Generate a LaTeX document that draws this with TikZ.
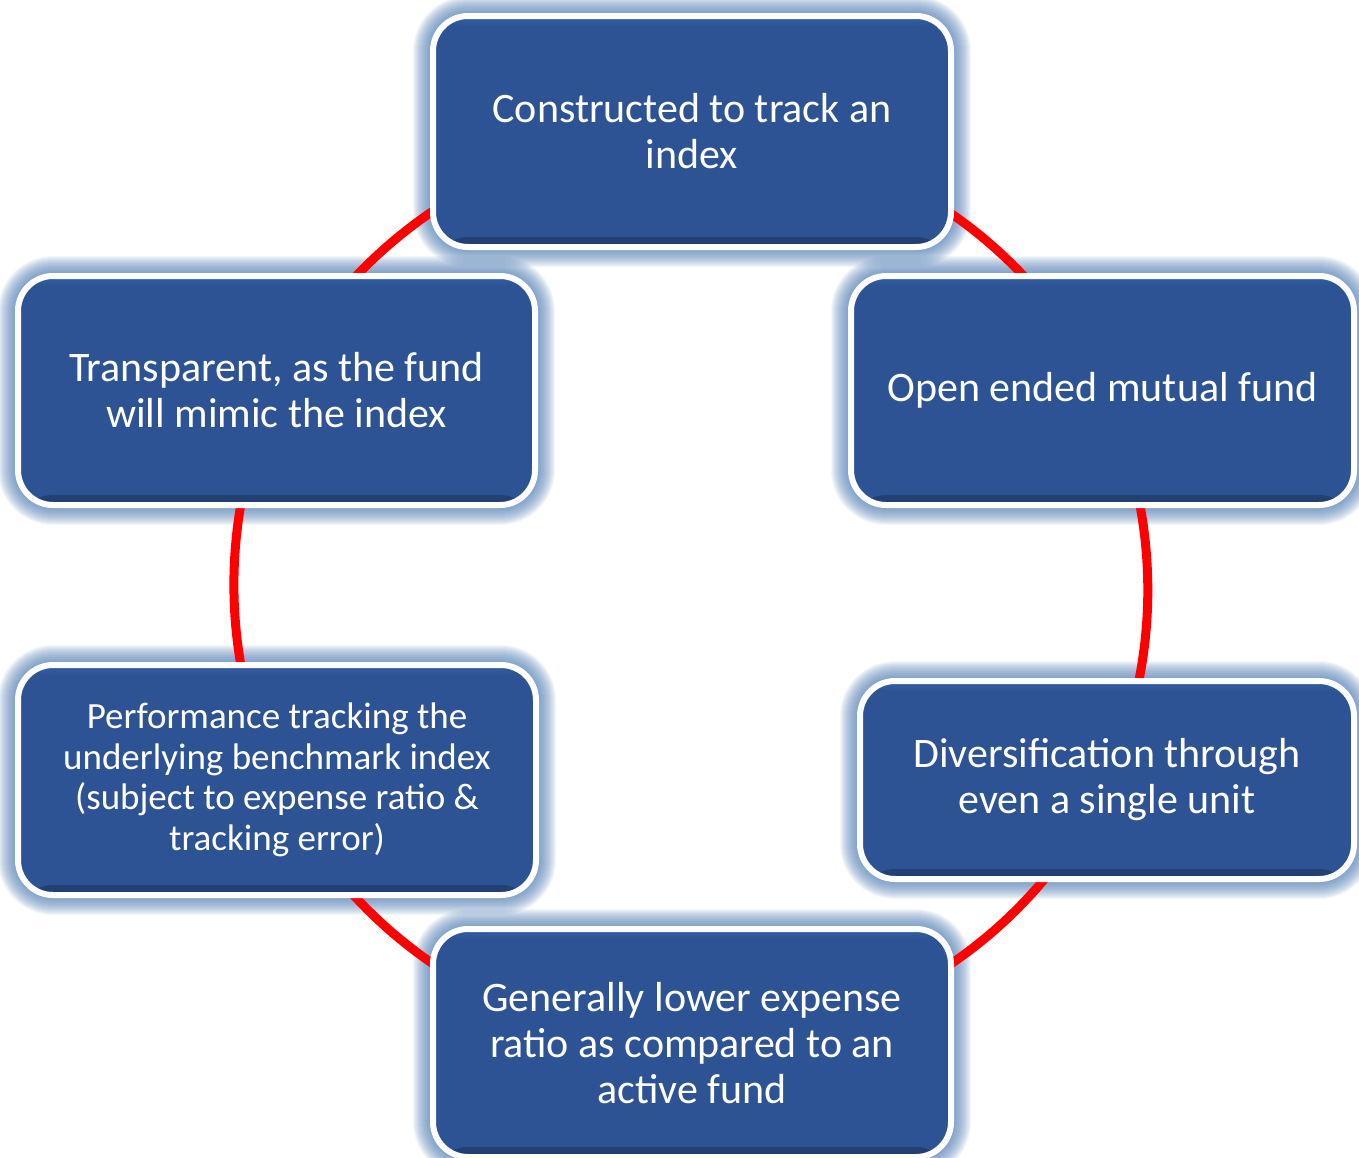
\documentclass[tikz,border=0pt]{standalone}
\usepackage{fontspec}
\setmainfont{Carlito}
\usetikzlibrary{backgrounds}

\definecolor{boxblue}{HTML}{2E5395}
\definecolor{boxtop}{HTML}{3460A6}
\definecolor{boxdark}{HTML}{233F72}
\definecolor{glowblue}{HTML}{5884BA}
\definecolor{ringred}{HTML}{FF0000}

\tikzset{
  fundbox/.style={draw=white, line width=6pt, fill=boxblue, rounded corners=35pt,
    text=white, align=center, inner sep=0pt, font=\fontsize{42}{46}\selectfont,
    path picture={
      \shade[top color=boxblue, bottom color=boxdark]
        ([yshift=10pt]path picture bounding box.south west) rectangle (path picture bounding box.south east);
      \shade[top color=boxtop, bottom color=boxblue]
        (path picture bounding box.north west) rectangle ([yshift=-10pt]path picture bounding box.north east);
    }},
  ring/.style={draw=ringred, line width=9pt},
  glow/.style={draw=glowblue, opacity=0.065, rounded corners=38pt},
}

\begin{document}
\begin{tikzpicture}[x=1pt, y=-1pt]
\useasboundingbox (0,0) rectangle (1359,1157);

% the six boxes round the ring
\node[fundbox, minimum width=518pt, minimum height=231pt] (top) at (692,131.5) {Constructed to track an\\index};
\node[fundbox, minimum width=503pt, minimum height=229pt] (rgt) at (1102.5,390.5) {Open ended mutual fund};
\node[fundbox, minimum width=494pt, minimum height=198pt] (br) at (1107,780) {Diversification through\\even a single unit};
\node[fundbox, minimum width=518pt, minimum height=228pt] (bot) at (692,1043) {Generally lower expense\\ratio as compared to an\\active fund};
\node[fundbox, minimum width=518pt, minimum height=230pt, font=\fontsize{37}{40.5}\selectfont] (bl) at (277,780) {Performance tracking the\\underlying benchmark index\\(subject to expense ratio \&\\tracking error)};
\node[fundbox, minimum width=517pt, minimum height=229pt] (tl) at (276.5,390.5) {Transparent, as the fund\\will mimic the index};

\begin{scope}[on background layer]
  \fill[white] (0,0) rectangle (1359,1157);
  % soft glow
  \foreach \n in {top,rgt,br,bot,bl,tl}
    \foreach \w in {2,4,...,34}
      \draw[glow, line width=\w pt] (\n.north west) rectangle (\n.south east);
  % red ring
  \draw[ring] (top.center) to[bend left=32, looseness=0.92] (rgt.center);
  \draw[ring] (rgt.center) to[bend left=25, looseness=0.89] (br.center);
  \draw[ring] (br.center) to[bend left=33, looseness=0.92] (bot.center);
  \draw[ring] (bot.center) to[bend left=33, looseness=0.92] (bl.center);
  \draw[ring] (bl.center) to[bend left=25, looseness=0.89] (tl.center);
  \draw[ring] (tl.center) to[bend left=32, looseness=0.92] (top.center);
\end{scope}
\end{tikzpicture}
\end{document}
